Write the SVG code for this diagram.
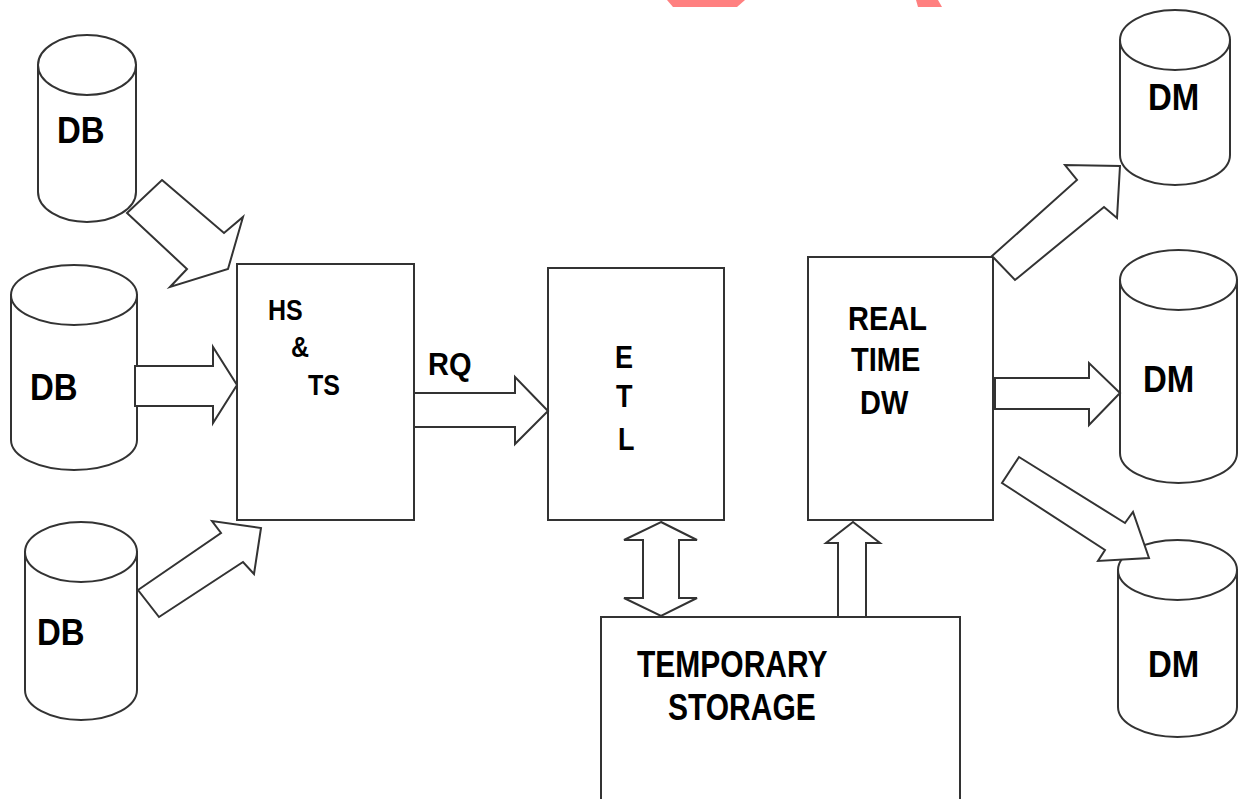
<svg xmlns="http://www.w3.org/2000/svg" width="1248" height="799" viewBox="0 0 1248 799">
<style>
.s{fill:#fff;stroke:#333;stroke-width:2;stroke-linejoin:miter}
.t{font-family:"Liberation Sans",Arial,sans-serif;font-weight:bold;fill:#000}
</style>
<rect width="1248" height="799" fill="#fff"/>
<polygon points="667,0 745,0 737,7 673,7" fill="#ff8080"/>
<polygon points="916,0 938,0 942,7 918,7" fill="#ff8080"/>

<g id="db1">
<path class="s" d="M38,65 L38,192 A49,30 0 0 0 136,192 L136,65 Z"/>
<ellipse class="s" cx="87" cy="65" rx="49" ry="30"/>
<text class="t" font-size="33" transform="translate(57,143) scale(1,1.12)">DB</text>
</g>
<g id="db2">
<path class="s" d="M11,295 L11,440 A63,30 0 0 0 137,440 L137,295 Z"/>
<ellipse class="s" cx="74" cy="295" rx="63" ry="30"/>
<text class="t" font-size="33" transform="translate(30,400) scale(1,1.12)">DB</text>
</g>
<g id="db3">
<path class="s" d="M25,552 L25,690 A56,30 0 0 0 137,690 L137,552 Z"/>
<ellipse class="s" cx="81" cy="552" rx="56" ry="30"/>
<text class="t" font-size="33" transform="translate(37,645) scale(1,1.12)">DB</text>
</g>

<g id="dm1">
<path class="s" d="M1120,40 L1120,155 A55,30 0 0 0 1230,155 L1230,40 Z"/>
<ellipse class="s" cx="1175" cy="40" rx="55" ry="30"/>
<text class="t" font-size="33" transform="translate(1148,110) scale(1,1.12)">DM</text>
</g>
<g id="dm2">
<path class="s" d="M1120,280 L1120,453 A58.5,30 0 0 0 1237,453 L1237,280 Z"/>
<ellipse class="s" cx="1178.5" cy="280" rx="58.5" ry="30"/>
<text class="t" font-size="33" transform="translate(1143,392) scale(1,1.12)">DM</text>
</g>
<g id="dm3">
<path class="s" d="M1118,570 L1118,707 A59.5,30 0 0 0 1237,707 L1237,570 Z"/>
<ellipse class="s" cx="1177.5" cy="570" rx="59.5" ry="30"/>
<text class="t" font-size="33" transform="translate(1148,677) scale(1,1.12)">DM</text>
</g>

<g id="hsts">
<rect class="s" x="237" y="264" width="177" height="256"/>
<text class="t" font-size="25" transform="translate(268,320) scale(1,1.2)">HS</text>
<text class="t" font-size="25" transform="translate(291,357) scale(1,1.2)">&amp;</text>
<text class="t" font-size="25" transform="translate(308,395) scale(1,1.2)">TS</text>
</g>
<g id="etl">
<rect class="s" x="548" y="268" width="176" height="252"/>
<text class="t" font-size="27" transform="translate(615,368) scale(1,1.15)">E</text>
<text class="t" font-size="27" transform="translate(616,407) scale(1,1.15)">T</text>
<text class="t" font-size="27" transform="translate(618,450) scale(1,1.15)">L</text>
</g>
<g id="rtdw">
<rect class="s" x="808" y="257" width="185" height="263"/>
<text class="t" font-size="29" transform="translate(848,330) scale(1,1.15)">REAL</text>
<text class="t" font-size="29" transform="translate(851,371) scale(1,1.15)">TIME</text>
<text class="t" font-size="29" transform="translate(860,414) scale(1,1.15)">DW</text>
</g>
<g id="ts">
<path class="s" d="M601,800 L601,617 L960,617 L960,800"/>
<text class="t" font-size="30" transform="translate(637,677) scale(1,1.2)">TEMPORARY</text>
<text class="t" font-size="30" transform="translate(668,720) scale(1,1.2)">STORAGE</text>
</g>

<g id="connectors">
<polygon class="s" points="162,180 224,233 243,217 228,269 170,287 187,269 127,213"/>
<polygon class="s" points="135,366 213,366 213,347 237,385 213,423 213,406 135,406"/>
<polygon class="s" points="138,590 221,533 212,521 261,528 254,574 243,562 159,617"/>
<polygon class="s" points="414,393 515,393 515,377 548,411 515,444 515,427 414,427"/>
<polygon class="s" points="661,522 697,540 679,540 679,598 697,598 661,616 624,598 643,598 643,540 624,540"/>
<polygon class="s" points="838,617 838,543 826,543 853,522 880,543 866,543 866,617"/>
<polygon class="s" points="992,256 1077,180 1065,165 1120,166 1117,218 1104,207 1015,280"/>
<polygon class="s" points="995,378 1089,378 1089,363 1120,393 1089,425 1089,409 995,409"/>
<polygon class="s" points="1019,457 1125,523 1133,512 1149,558 1098,561 1105,550 1002,483"/>
<text class="t" font-size="29" transform="translate(428,375) scale(1,1.08)">RQ</text>
</g>
</svg>
